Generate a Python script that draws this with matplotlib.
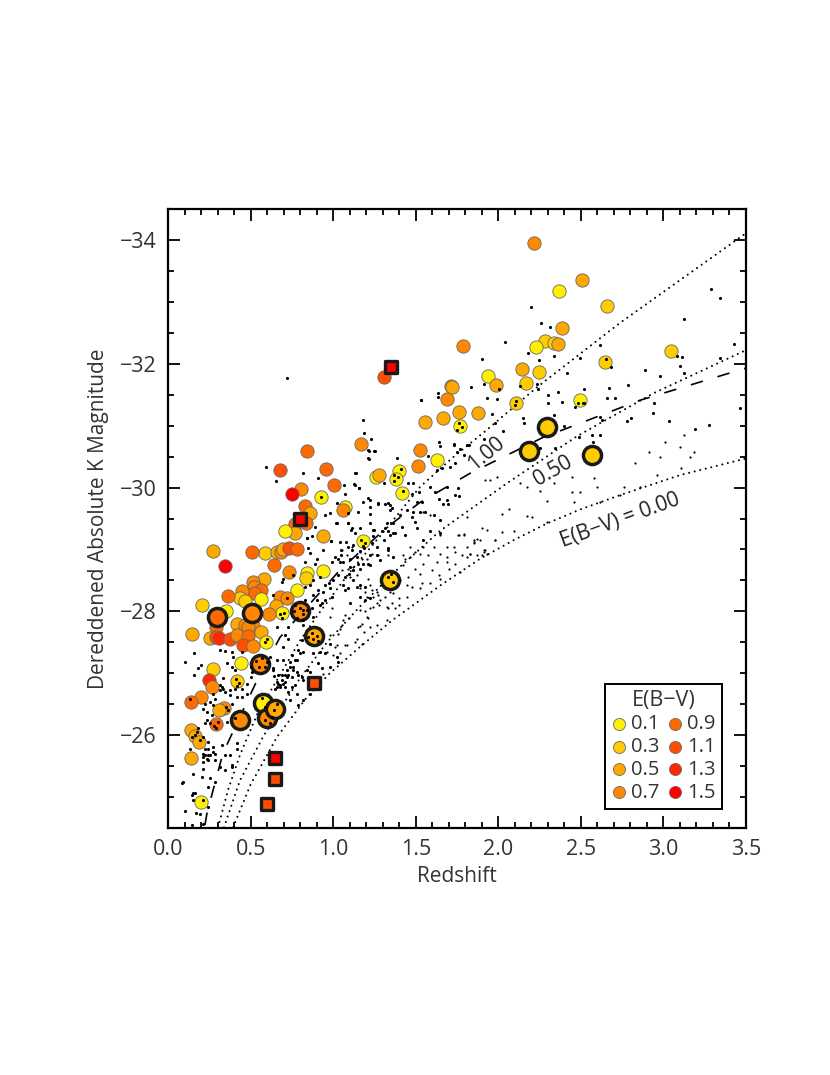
import numpy as np
import matplotlib
matplotlib.use("Agg")
import matplotlib.pyplot as plt
from matplotlib.ticker import MultipleLocator

plt.rcParams['font.family'] = ['Open Sans', 'DejaVu Sans']
plt.rcParams['lines.scale_dashes'] = False

# E(B-V) legend levels
ebv_levels = [0.1, 0.3, 0.5, 0.7, 0.9, 1.1, 1.3, 1.5]
ebv_colors = ['#FFF000', '#FFCC00', '#FFA800', '#FF8800', '#FF6A00', '#FF4E00', '#FF2800', '#FF0000']

# model tracks: redshift, magnitude
track_000_z = [.394, .5, .66, .84, .98, 1.16, 1.36, 1.65, 1.89, 2.1, 2.295, 2.5, 2.74, 3.1, 3.5]
track_000_m = [-24.51, -25.2, -25.97, -26.61, -27.0, -27.42, -27.86, -28.42, -28.85, -29.16, -29.42, -29.65, -29.88, -30.2, -30.47]
track_050_z = [.339, .436, .575, .678, .80, .963, 1.163, 1.405, 1.647, 2.053, 2.477, 2.937, 3.5]
track_050_m = [-24.51, -25.27, -25.97, -26.42, -26.92, -27.5, -28.08, -28.72, -29.3, -30.07, -30.83, -31.52, -32.22]
track_100_z = [.303, .363, .436, .545, .66, .80, .92, 1.10, 1.314, 1.526, 1.726, 1.93, 2.234, 2.737, 3.5]
track_100_m = [-24.51, -25.11, -25.68, -26.37, -26.89, -27.53, -27.99, -28.63, -29.31, -30.01, -30.49, -30.93, -31.62, -32.66, -34.11]
dash_z = [.224, .236, .333, .54, .678, 1.042, 1.327, 1.526, 1.829, 2.271, 2.858, 3.5]
dash_m = [-24.55, -24.74, -25.71, -26.89, -27.58, -28.67, -29.36, -29.76, -30.23, -30.81, -31.41, -31.93]

# reddened objects: z, magnitude, E(B-V)
circles = [
    (2.216, -33.95, .7), (2.507, -33.35, .5), (2.37, -33.17, .1), (2.66, -32.93, .3), (2.387, -32.57, .5),
    (2.28, -32.36, .3), (2.337, -32.33, .3), (2.36, -32.32, .5), (2.228, -32.27, .1), (1.786, -32.28, .7),
    (3.046, -32.2, .3), (2.646, -32.03, .3), (2.144, -31.91, .5), (2.247, -31.86, .3), (1.938, -31.8, .1),
    (2.168, -31.69, .3), (1.986, -31.65, .5), (1.714, -31.64, .7), (1.72, -31.62, .5), (1.69, -31.43, .7),
    (2.495, -31.41, .1), (2.107, -31.36, .3), (1.762, -31.22, .5), (1.877, -31.2, .5), (1.665, -31.12, .5),
    (1.556, -31.06, .5), (1.768, -31.0, .1), (1.629, -30.44, .1), (1.526, -30.6, .7), (1.514, -30.35, .7),
    (1.308, -31.78, 1.1), (1.169, -30.7, .7), (.842, -30.59, .9), (.957, -30.3, .9), (.678, -30.28, 1.1),
    (1.26, -30.17, .1), (1.278, -30.2, .5), (1.399, -30.26, .1), (1.38, -30.14, .1), (1.417, -29.91, .1),
    (1.005, -30.04, .9), (.805, -29.97, .7), (.75, -29.89, 1.5), (.927, -29.85, .1), (.83, -29.7, .9),
    (.86, -29.59, .5), (1.072, -29.68, .1), (1.06, -29.63, .7), (.77, -29.41, .9), (.836, -29.42, .9),
    (.77, -29.26, .5), (.708, -29.3, .1), (.94, -29.21, .5), (1.18, -29.13, .1), (.587, -28.94, .3),
    (.66, -28.96, .5), (.684, -28.96, .7), (.696, -29.0, .5), (.733, -29.03, 1.1), (.78, -29.0, .9),
    (.272, -28.97, .5), (.509, -28.96, .9), (.345, -28.73, 1.5), (.642, -28.75, .9), (.733, -28.63, .7),
    (.842, -28.62, .1), (.939, -28.65, .1), (.836, -28.54, .3), (.78, -28.34, .1), (.58, -28.53, .5),
    (.515, -28.47, .7), (.52, -28.39, .7), (.563, -28.34, .9), (.52, -28.29, .9), (.448, -28.33, .7),
    (.436, -28.21, .3), (.466, -28.16, .3), (.563, -28.2, .1), (.363, -28.25, .9), (.678, -28.23, .7),
    (.72, -28.21, .7), (.654, -28.08, .5), (.69, -27.97, .1), (.61, -27.95, .7), (.206, -28.1, .3),
    (.351, -28.0, .1), (.418, -27.79, .5), (.145, -27.63, .5), (.254, -27.57, .5), (.29, -27.74, .9),
    (.29, -27.58, 1.1), (.31, -27.57, 1.3), (.375, -27.56, 1.1), (.466, -27.78, .7), (.515, -27.76, .7),
    (.484, -27.74, .7), (.418, -27.62, .7), (.484, -27.6, .9), (.454, -27.45, 1.1), (.515, -27.44, .7),
    (.563, -27.66, .5), (.593, -27.51, .1), (.442, -27.16, .1), (.272, -27.07, .3), (.248, -26.89, 1.3),
    (.266, -26.78, .7), (.418, -26.87, .3), (.2, -26.61, .7), (.139, -26.53, .9), (.339, -26.44, .7),
    (.309, -26.4, .5), (.291, -26.18, .9), (.139, -26.08, .5), (.163, -25.98, .5), (.188, -25.89, .5),
    (.139, -25.63, .5), (.2, -24.92, .1),
]

# objects with a heavy ring
ringed = [
    (2.295, -30.98, .3), (2.186, -30.59, .3), (2.567, -30.52, .3), (1.344, -28.5, .3), (.509, -27.97, .7),
    (.297, -27.91, 1.0), (.8, -28.0, .7), (.884, -27.6, .5), (.557, -27.15, .7), (.436, -26.24, .7),
    (.575, -26.52, .1), (.6, -26.27, .7), (.648, -26.42, .5),
]

# squares
squares = [
    (1.35, -31.95, 1.5), (.8, -29.5, 1.5), (.884, -26.84, 1.1), (.648, -25.63, 1.5), (.648, -25.29, 1.1),
    (.6, -24.89, 1.1),
]

# background sample, low redshift
dots_low = [
    (.10, -27.18), (.16, -27.32), (.16, -26.97), (.20, -27.13), (.18, -27.08), (.315, -27.37), (.345, -27.36),
    (.385, -27.35), (.395, -27.27), (.45, -27.35), (.355, -27.16), (.385, -27.10), (.405, -27.05), (.335, -26.92),
    (.315, -26.81), (.335, -26.75), (.375, -26.73), (.45, -26.75), (.48, -26.83), (.50, -26.94), (.507, -27.02),
    (.416, -26.62), (.446, -26.62), (.275, -26.67), (.255, -26.54), (.224, -26.51), (.234, -26.38), (.285, -26.59),
    (.386, -26.51), (.365, -26.40), (.355, -26.22), (.406, -26.27), (.265, -26.32), (.224, -26.19), (.184, -26.11),
    (.214, -25.97), (.194, -25.92), (.133, -25.78), (.143, -25.97), (.224, -25.78), (.244, -25.78), (.244, -25.68),
    (.275, -25.73), (.214, -25.65), (.214, -25.57), (.244, -25.60), (.285, -25.60), (.345, -25.68), (.376, -25.68),
    (.386, -25.52), (.214, -25.46), (.153, -25.38), (.204, -25.33), (.093, -25.25), (.083, -25.22), (.244, -25.17),
    (.285, -25.25), (.153, -25.06), (.153, -24.95), (.103, -24.78), (.17, -24.75), (.143, -24.55), (.214, -24.57),
    (.194, -24.73), (.658, -26.86), (.689, -26.97), (.719, -26.94), (.749, -26.94), (.679, -26.78), (.709, -26.86),
    (.638, -27.05), (.658, -27.21), (.699, -27.21), (.749, -27.29), (.78, -27.21), (.739, -27.10), (.78, -27.02),
    (.618, -27.27), (.699, -27.43),
    (.315, -26.73), (.325, -26.78), (.345, -26.7), (.376, -26.65), (.406, -26.75), (.477, -26.67), (.234, -26.24),
    (.254, -26.19), (.275, -26.48), (.214, -26.43), (.224, -25.68), (.234, -25.62), (.254, -25.68), (.214, -25.7),
    (.275, -25.81), (.244, -25.89), (.163, -26.0), (.174, -26.05), (.285, -25.7), (.164, -25.06), (.143, -25.03),
    (.244, -24.84), (.254, -25.3), (.345, -25.43), (.315, -25.49), (.325, -25.84), (.416, -25.87), (.416, -25.77),
    (.386, -25.49),
]

# background sample, z around 1
dots_mid = [
    (1.02, -29.43), (1.09, -29.42), (1.16, -29.35), (1.11, -29.32), (1.25, -29.31), (1.325, -29.42), (1.315, -29.34),
    (1.295, -29.30), (1.376, -29.26), (1.345, -29.23), (1.244, -29.21), (.844, -29.18), (.87, -29.21), (.99, -29.14),
    (1.08, -29.12), (1.123, -29.07), (1.234, -29.10), (1.184, -29.02), (1.163, -28.98), (1.113, -28.99), (1.05, -28.99),
    (.941, -28.99), (.85, -29.02), (.86, -28.94), (1.046, -28.91), (1.012, -28.88), (1.032, -28.84), (.992, -28.80),
    (1.103, -28.85), (1.143, -28.88), (1.062, -28.80), (1.224, -28.91), (1.264, -28.91), (1.285, -28.83), (1.335, -28.99),
    (1.365, -28.88), (.83, -28.80), (.90, -28.85), (.89, -28.77), (1.103, -28.72), (1.153, -28.77), (1.224, -28.75),
    (1.123, -28.67), (1.093, -28.61), (1.032, -28.58), (1.002, -28.50), (.972, -28.45), (.951, -28.42), (.982, -28.37),
    (.941, -28.32), (.911, -28.34), (.881, -28.26), (.90, -28.18), (.992, -28.23), (.951, -28.18), (.931, -28.13),
    (1.103, -28.13), (1.073, -28.34), (1.163, -28.42), (1.224, -28.21), (1.194, -28.18), (.82, -27.86), (.82, -27.78),
    (.729, -27.75), (.709, -27.62), (.658, -27.75), (.729, -27.56), (.81, -27.53), (.79, -27.37), (.82, -27.35),
    (.739, -27.18), (.759, -27.10), (.709, -26.97), (.729, -26.97), (.79, -26.97), (.699, -26.83), (.679, -26.81),
    (.658, -26.78), (.749, -26.78), (.84, -27.05),
    (.634, -27.08), (.642, -26.95), (.669, -26.97), (.719, -27.05), (.689, -26.89), (.77, -27.21), (.759, -27.05),
    (.80, -27.32), (.648, -26.75), (.669, -26.83), (.709, -26.78), (.729, -26.70), (.77, -26.81), (.81, -26.94),
    (.82, -26.89), (.78, -26.67), (.739, -26.56), (.79, -26.48), (.82, -26.56), (.86, -26.67), (.881, -27.32),
    (.921, -27.35), (.982, -27.48), (.951, -27.32), (1.022, -27.27), (.911, -27.16), (.982, -27.1), (1.032, -27.18),
    (.86, -27.02), (.931, -27.08), (.689, -28.48), (.699, -28.53), (.759, -28.58), (.638, -28.26), (.719, -28.21),
    (.881, -28.50), (.921, -28.56), (.83, -28.40), (.86, -28.42), (.83, -28.18), (.82, -28.02), (.871, -28.05),
    (.921, -28.10), (.881, -27.91), (1.042, -28.8), (1.183, -28.77), (1.163, -28.69), (1.214, -28.77), (1.072, -28.56),
    (1.123, -28.5), (1.143, -28.4), (1.062, -28.42), (1.092, -28.37), (1.194, -28.4), (1.163, -28.23),
]

# dots that fall on top of the coloured symbols
dots_on_marks = [
    (.77, -28.1), (.8, -28.05), (.82, -27.95), (.78, -27.9), (.84, -28.02), (.76, -28.0), (.87, -27.65), (.90, -27.6),
    (.88, -27.55), (.91, -27.52), (.85, -27.58), (.53, -27.2), (.57, -27.25), (.59, -27.1), (.55, -27.1), (.6, -27.18),
    (.5, -27.1), (1.33, -28.55), (1.36, -28.47), (1.35, -28.6), (.66, -26.5), (.64, -26.4), (.63, -26.3), (.57, -26.6),
    (.59, -26.45), (.59, -26.25), (.62, -26.2), (.927, -29.85), (1.76, -31.05), (1.78, -30.98), (1.75, -30.93),
    (2.48, -31.37), (2.51, -31.37), (2.65, -32.07), (1.17, -29.15), (1.19, -29.1), (1.18, -29.05), (1.37, -30.1),
    (1.39, -30.17), (1.37, -30.2), (1.41, -30.3), (1.42, -29.95), (.68, -27.95), (.7, -27.98), (.69, -27.9), (.6, -27.55),
    (.59, -27.5), (.41, -26.9), (.43, -26.85), (.42, -26.8), (.35, -26.45), (.28, -26.15), (.3, -26.22), (.29, -26.12),
    (.135, -26.58), (.21, -24.95), (2.11, -31.4), (2.1, -31.33),
]

# background sample, upper envelope between z 1 and 1.8
dots_upper = [
    (.72, -31.77), (1.18, -31.09), (1.187, -30.88), (1.23, -30.78), (1.247, -30.59), (1.215, -30.59), (1.217, -30.46),
    (1.532, -31.41), (1.635, -31.47), (.593, -30.33), (.818, -30.23), (.654, -30.10), (.91, -30.15), (1.139, -30.23),
    (1.127, -30.05), (1.157, -29.99), (1.066, -30.04), (1.072, -29.9), (1.023, -29.75), (.98, -29.59), (.95, -29.55),
    (1.09, -29.59), (1.023, -29.42), (1.09, -29.42), (.89, -29.36), (.84, -29.18), (.987, -29.13), (1.04, -29.12),
    (1.09, -29.04), (1.133, -29.26), (1.211, -29.83), (1.27, -29.75), (1.33, -29.75), (1.356, -29.67),
    (1.638, -30.74), (1.648, -30.67), (1.729, -30.69), (1.82, -30.69), (1.77, -30.63), (1.749, -30.58), (1.79, -30.52),
    (1.739, -30.40), (1.709, -30.33), (1.658, -30.31), (1.628, -30.29), (1.577, -30.51), (1.214, -30.47), (1.214, -30.60),
    (1.254, -30.59), (1.385, -30.47), (1.133, -30.23), (1.133, -30.04), (1.159, -29.99), (1.305, -30.07), (1.456, -30.07),
    (1.486, -30.08), (1.587, -30.01), (1.618, -29.93), (1.638, -29.82), (1.688, -30.01), (1.759, -29.99), (1.739, -29.88),
    (1.765, -29.86), (1.688, -29.80), (1.668, -29.74), (1.698, -29.74), (1.517, -29.93), (1.476, -29.90), (1.507, -29.77),
    (1.537, -29.77), (1.224, -29.80), (1.274, -29.74), (1.315, -29.74), (1.345, -29.72), (1.183, -29.77), (1.224, -29.69),
    (1.345, -29.63), (1.224, -29.58), (1.153, -29.61), (1.446, -29.63), (1.486, -29.61), (1.406, -29.55), (1.527, -29.61),
    (1.557, -29.61), (1.476, -29.53), (1.608, -29.55), (1.648, -29.47), (1.497, -29.45), (1.507, -29.34), (1.365, -29.42),
    (1.416, -29.37), (1.335, -29.29), (1.365, -29.26), (1.436, -29.23), (1.113, -29.34), (1.224, -29.42), (1.244, -29.31),
    (1.587, -29.29), (1.648, -29.26), (1.547, -29.15), (1.305, -29.15), (1.264, -29.04), (1.335, -29.02),
]

# background sample, high redshift
dots_high = [
    (3.289, -33.21), (3.345, -33.07), (3.123, -32.73), (2.2, -32.91), (2.258, -32.66), (2.315, -32.60), (2.042, -32.35),
    (2.18, -32.17), (2.34, -32.12), (1.90, -32.07), (3.08, -32.12), (3.115, -32.11), (3.426, -32.32), (3.34, -32.09),
    (3.10, -31.97), (3.123, -31.85), (2.98, -31.81), (2.89, -31.90), (2.68, -31.95), (2.618, -32.30), (2.497, -32.10),
    (2.416, -31.85), (2.244, -32.06), (2.234, -31.68), (2.238, -31.60), (2.133, -31.64), (1.836, -31.62), (1.632, -31.52),
    (1.531, -31.41), (1.931, -31.45), (2.002, -31.60), (1.992, -31.43), (1.911, -31.67), (1.961, -31.19), (2.028, -30.91),
    (1.98, -31.04), (1.81, -30.68), (1.911, -30.78), (1.729, -30.71), (2.149, -31.13), (2.157, -31.04), (2.299, -31.49),
    (2.299, -31.37), (2.359, -31.54), (2.386, -31.38), (2.466, -31.30), (2.52, -31.60), (2.517, -31.37), (2.672, -31.61),
    (2.705, -31.44), (2.658, -31.44), (2.784, -31.65), (2.941, -31.36), (2.937, -31.20), (2.804, -31.13), (2.78, -31.07),
    (3.032, -31.08), (3.194, -30.94), (3.274, -31.01), (3.466, -31.29), (3.497, -31.92), (2.335, -31.18), (2.396, -30.99),
    (2.618, -31.14), (2.628, -31.09), (2.487, -30.82), (2.567, -30.85), (2.618, -30.85), (2.571, -30.74), (2.345, -30.64),
    (2.25, -30.64),
]

# fainter, smaller dots below the 0.50 track
dots_faint = [
    (1.275, -28.10), (1.244, -28.07), (.992, -28.05), (.982, -27.91), (1.073, -27.94), (1.062, -27.86), (1.093, -27.89),
    (1.163, -28.02), (1.194, -28.0), (1.214, -27.89), (1.163, -27.76), (1.174, -27.80), (1.052, -27.78), (1.042, -27.72),
    (1.032, -27.64), (1.184, -27.67), (1.264, -27.78), (1.325, -27.86), (1.376, -28.05), (1.396, -28.10), (1.335, -28.05),
    (.982, -27.62), (1.022, -27.45), (1.002, -27.29), (.941, -26.99), (1.042, -27.32), (1.083, -27.45), (1.133, -27.51),
    (1.174, -27.48), (1.426, -28.91), (1.466, -28.88), (1.436, -28.85), (1.527, -28.93), (1.497, -28.96), (1.335, -28.91),
    (1.173, -28.85), (1.204, -28.85), (1.163, -28.96), (1.113, -29.04), (1.082, -28.91), (1.052, -28.99), (1.234, -28.93),
    (1.274, -28.91), (1.123, -28.72), (1.092, -28.69), (1.052, -28.67), (1.143, -28.58), (1.103, -28.56), (1.214, -28.53),
    (1.426, -28.75), (1.688, -29.04), (1.739, -28.96), (1.83, -28.93), (1.911, -28.96), (1.85, -29.15), (1.87, -29.17),
    (1.9, -29.34), (1.93, -29.32), (1.98, -29.16), (1.76, -29.23), (1.79, -29.25), (1.77, -28.64), (1.70, -28.69),
    (1.638, -28.58), (1.648, -28.53), (1.587, -28.45), (1.537, -28.45), (1.446, -28.42), (1.476, -28.40), (1.527, -28.37),
    (1.365, -28.29), (1.446, -28.23), (1.274, -28.26), (1.234, -28.34), (1.204, -28.23), (1.163, -28.37), (2.446, -30.17),
    (2.335, -30.07), (2.254, -29.95), (2.295, -29.78), (2.133, -30.07), (2.173, -30.01), (1.992, -30.17), (1.951, -30.13),
    (1.92, -30.12), (2.911, -30.58), (2.982, -30.50), (3.012, -30.74), (3.123, -30.85), (3.103, -30.66), (3.184, -30.58),
    (3.163, -30.50), (2.83, -30.39), (3.109, -30.32), (2.961, -30.21), (2.759, -30.01), (2.86, -30.01), (2.739, -29.88),
    (2.598, -30.01), (2.578, -30.15), (2.446, -29.93), (2.497, -29.93), (2.618, -29.77), (2.456, -29.77), (2.295, -29.45),
    (2.173, -29.54), (2.204, -29.53), (2.093, -29.29), (2.062, -29.66), (2.022, -29.58), (2.022, -29.28), (1.98, -29.15),
    (1.911, -28.99), (1.83, -28.93), (1.79, -29.23), (1.759, -29.23), (1.891, -29.15), (1.85, -29.12), (1.81, -29.53),
    (1.648, -29.23), (1.588, -29.55), (1.547, -29.61),
    (1.224, -28.05), (1.264, -28.13), (1.204, -27.91), (1.153, -27.75), (1.224, -27.75), (1.143, -27.56), (1.073, -27.45),
    (1.012, -27.43), (.961, -27.35), (1.325, -28.07), (1.355, -28.13), (1.396, -28.21), (1.285, -28.18), (1.244, -28.23),
    (1.194, -28.32), (1.224, -28.42), (1.264, -28.32), (1.315, -28.23), (1.345, -28.32), (1.921, -28.99), (1.9, -28.91),
    (1.931, -28.93), (1.85, -29.1), (1.81, -28.88), (1.779, -28.91), (1.729, -29.04), (1.688, -28.88), (1.648, -28.93),
    (1.608, -29.04), (1.577, -28.91), (1.547, -28.77), (1.497, -28.69), (1.527, -28.61), (1.598, -28.66), (1.456, -28.56),
    (1.406, -28.5), (1.688, -28.8), (1.739, -28.77), (1.81, -29.04), (1.87, -28.91), (1.628, -28.8), (1.547, -29.04),
    (1.466, -29.04),
]


def ebv_color(e):
    # nearest legend colour
    i = int(np.argmin(np.abs(np.array(ebv_levels) - e)))
    return ebv_colors[i]


fig = plt.figure(figsize=(8.3, 10.75), dpi=100)
ax = fig.add_axes([168/830, (1075-828)/1075, 578/830, 619/1075])

dotted = (0, (0.01, 4.1))
ax.plot(track_000_z, track_000_m, color='k', lw=1.5, ls=dotted, dash_capstyle='round')
ax.plot(track_050_z, track_050_m, color='k', lw=1.5, ls=dotted, dash_capstyle='round')
ax.plot(track_100_z, track_100_m, color='k', lw=1.5, ls=dotted, dash_capstyle='round')
ax.plot(dash_z, dash_m, color='k', lw=1.2, ls=(0, (9, 11)))

for z, m, e in circles:
    ax.scatter(z, m, s=92, color=ebv_color(e), edgecolors='#666666', linewidths=0.6, zorder=3)
for z, m, e in ringed:
    ax.scatter(z, m, s=170, color=ebv_color(e), edgecolors='#1a1a1a', linewidths=2.5, zorder=4)

big_dots = np.array(dots_low + dots_mid + dots_upper + dots_high + dots_on_marks)
small_dots = np.array(dots_faint)
ax.scatter(big_dots[:, 0], big_dots[:, 1], s=5, color='k', linewidths=0, zorder=5)
ax.scatter(small_dots[:, 0], small_dots[:, 1], s=2.5, color='k', linewidths=0, zorder=5)

for z, m, e in squares:
    ax.scatter(z, m, s=75, marker='s', color=ebv_color(e), edgecolors='#1a1a1a', linewidths=2.4, zorder=6)

ax.text(2.74, -29.46, 'E(B\u2212V) = 0.00', fontsize=15, rotation=20, ha='center', va='center', color='#222222')
ax.text(2.33, -30.27, '0.50', fontsize=15, rotation=30, ha='center', va='center', color='#222222')
ax.text(1.93, -30.55, '1.00', fontsize=15, rotation=40, ha='center', va='center', color='#222222')

ax.set_xlim(0, 3.5)
ax.set_ylim(-24.5, -34.5)
ax.xaxis.set_major_locator(MultipleLocator(0.5))
ax.xaxis.set_minor_locator(MultipleLocator(0.1))
ax.yaxis.set_major_locator(MultipleLocator(2))
ax.yaxis.set_minor_locator(MultipleLocator(0.5))
ax.tick_params(which='major', direction='in', length=8.5, width=1.3, top=True, right=True,
               labelsize=15.5, labelcolor='#333333', pad=8)
ax.tick_params(which='minor', direction='in', length=4.3, width=1.3, top=True, right=True)
for side in ax.spines.values():
    side.set_linewidth(1.6)
ax.set_xticks([0, 0.5, 1, 1.5, 2, 2.5, 3, 3.5])
ax.set_xticklabels(['0.0', '0.5', '1.0', '1.5', '2.0', '2.5', '3.0', '3.5'])
ax.set_xlabel('Redshift', fontsize=15, color='#333333', labelpad=4)
ax.set_ylabel('Dereddened Absolute K Magnitude', fontsize=15, color='#333333', labelpad=8)

handles = [ax.scatter([], [], s=75, color=c, edgecolors='#666666', linewidths=0.6) for c in ebv_colors]
labels = ['%.1f' % e for e in ebv_levels]
leg = ax.legend(handles, labels, ncol=2, title='E(B\u2212V)', loc='lower right', bbox_to_anchor=(0.9585, 0.0307),
                fontsize=14.5, title_fontsize=15.5, labelcolor='#333333', frameon=True, fancybox=False, framealpha=1,
                edgecolor='k', borderaxespad=0, borderpad=0.32, labelspacing=0.14, handlelength=0.8,
                handletextpad=0.2, columnspacing=0.35)
leg.get_frame().set_linewidth(1.4)
leg.get_title().set_color('#333333')
leg.set_zorder(7)

fig.savefig('out.png', dpi=100)
